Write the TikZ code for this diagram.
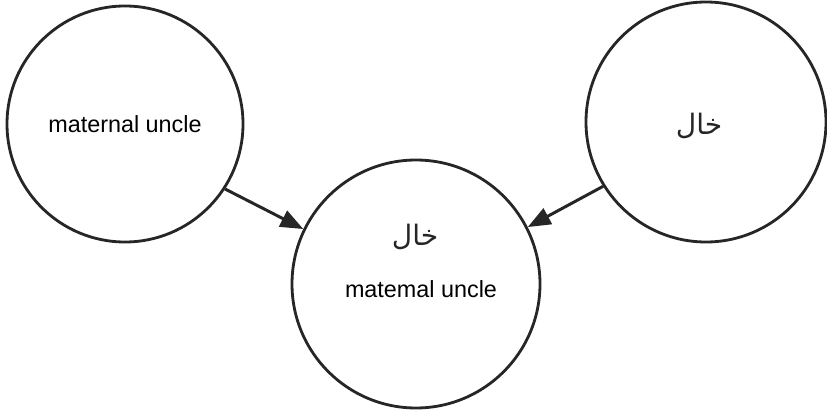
\documentclass[tikz,border=0pt]{standalone}
\usepackage{xcolor}
\usepackage{tikz}
\usepackage{fontspec}
\setmainfont{Liberation Sans}
\newfontfamily\arabicfont[Script=Arabic]{DejaVu Sans}
\TeXXeTstate=1
\usetikzlibrary{positioning, arrows, shapes, calc, arrows.meta}

\begin{document}
\begin{tikzpicture}
      \useasboundingbox (0,0) rectangle (16.54,8.22); % same frame as the reference
      \tikzset{
          word/.style={circle, draw=black!85, line width=1.6pt, align=center, font=\fontsize{13.3}{15}\selectfont},
          link/.style={draw=black!85, line width=1.7pt, -{Triangle[length=13pt, width=10pt]}}
      }
      \node[word, minimum size=4.72cm] (uncle) at (2.5,5.74) {maternal uncle};
      \node[word, minimum size=4.8cm] (khal) at (14.12,5.78) {}; % arabic side
      \node[font=\arabicfont\fontsize{16}{18}\selectfont, text=black!85] (khalar) at (13.98,5.7) {\beginR خال\endR};
      \node[word, minimum size=4.96cm] (both) at (8.32,2.54) {}; % shared meaning
      \node[font=\arabicfont\fontsize{16}{18}\selectfont, text=black!85] (bothar) at (8.3,3.48) {\beginR خال\endR};
      \node[font=\fontsize{13.3}{15}\selectfont] (bothen) at (8.42,2.44) {matemal uncle};
      \draw[link] (uncle.-33) -- (both.154);
      \draw[link] (khal.-148) -- (both.27);
  \end{tikzpicture}
\end{document}
